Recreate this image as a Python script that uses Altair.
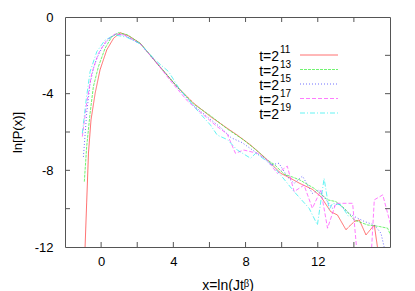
import altair as alt
import pandas as pd

# ---------------- data ----------------
series = ["t=2^11", "t=2^13", "t=2^15", "t=2^17", "t=2^19"]
exponents = ["11", "13", "15", "17", "19"]

x11 = [-0.89, -0.8, -0.7, -0.56, -0.33, -0.06, 0.31, 0.69, 1.06, 1.52, 2.17, 3.09, 4.2, 5.13, 6.06, 6.98, 7.54, 8.28, 9.02, 9.39, 9.94, 10.5, 11.0, 11.7, 12.17, 12.72, 13.09, 13.56, 14.02, 14.3, 14.67, 15.13, 15.32]
y11 = [-12.05, -9.7, -7.1, -5.37, -3.98, -2.76, -1.72, -1.11, -0.82, -0.98, -1.37, -2.42, -3.63, -4.5, -5.2, -5.8, -6.16, -6.68, -7.29, -7.63, -8.15, -8.42, -8.68, -8.99, -9.37, -10.16, -10.33, -11.1, -10.67, -10.59, -11.37, -10.85, -12.1]

x13 = [-0.93, -0.8, -0.61, -0.43, -0.15, 0.22, 0.59, 0.96, 1.43, 2.17, 3.09, 4.2, 5.13, 6.06, 7.0, 7.9, 8.6, 9.2, 9.6, 10.13, 10.6, 11.0, 11.8, 12.54, 13.0, 13.47, 14.02, 14.76, 15.41, 15.87, 16.06]
y13 = [-8.59, -6.77, -5.02, -3.64, -2.59, -1.63, -1.03, -0.82, -0.92, -1.37, -2.4, -3.62, -4.55, -5.15, -5.85, -6.42, -6.95, -7.46, -7.7, -8.2, -8.35, -8.5, -8.94, -9.54, -9.63, -9.98, -10.59, -10.85, -10.93, -11.02, -11.45]

x15 = [-0.98, -0.8, -0.61, -0.4, -0.24, 0.05, 0.31, 0.6, 0.87, 1.3, 2.17, 3.09, 4.2, 5.1, 6.0, 6.6, 7.2, 7.8, 8.4, 9.0, 9.39, 9.85, 10.31, 10.69, 11.15, 11.7, 12.07, 12.8, 13.1, 13.84, 14.58, 15.13, 15.5, 15.69]
y15 = [-7.3, -5.03, -3.46, -2.6, -2.16, -1.6, -1.29, -1.0, -0.88, -0.95, -1.4, -2.42, -3.65, -4.6, -5.3, -5.75, -6.3, -6.55, -6.95, -7.35, -7.72, -7.63, -8.33, -8.68, -8.3, -9.2, -9.02, -9.98, -9.72, -10.32, -10.67, -10.85, -11.28, -12.06]

x17 = [-1.04, -0.8, -0.52, -0.15, 0.31, 0.78, 1.3, 2.17, 3.09, 3.9, 4.8, 5.6, 6.4, 6.98, 7.44, 7.9, 8.3, 8.65, 9.2, 9.76, 10.31, 10.69, 11.24, 11.7, 12.17, 12.54, 13.0, 13.93, 14.2, 14.95, 15.13, 15.6, 16.06]
y17 = [-6.24, -4.5, -2.94, -1.9, -1.2, -0.88, -0.95, -1.4, -2.4, -3.4, -4.4, -5.05, -5.7, -6.1, -7.11, -6.94, -7.03, -7.11, -7.46, -8.16, -7.78, -9.11, -8.77, -9.98, -9.03, -11.02, -9.72, -9.72, -12.6, -12.6, -9.54, -9.28, -10.93]

x19 = [-1.04, -0.83, -0.61, -0.24, 0.22, 0.78, 1.4, 2.17, 3.0, 3.74, 4.3, 5.4, 6.06, 6.43, 7.0, 7.54, 8.28, 8.56, 9.0, 9.39, 9.94, 10.69, 11.52, 11.98, 12.35, 12.63, 12.82, 13.28, 13.7]
y19 = [-6.07, -4.33, -2.85, -1.81, -1.2, -0.94, -1.05, -1.4, -2.25, -2.85, -3.7, -4.95, -5.64, -6.16, -6.4, -6.94, -7.37, -7.11, -7.4, -7.63, -8.24, -9.11, -9.98, -10.85, -8.42, -10.06, -9.72, -9.8, -10.4]

x_labels = [0, 4, 8, 12]
y_labels = [0, -4, -8, -12]
x_minor = [0, 2, 4, 6, 8, 10, 12, 14]
y_minor = [-2, -4, -6, -8, -10]

colors = ["#ff3333", "#33ee33", "#3333ff", "#ff44ff", "#22eeee"]
dashes = [[1, 0], [3, 1], [1, 2], [4, 2], [5, 2, 1, 2]]

# ---------------- build tables ----------------
xs = [x11, x13, x15, x17, x19]
ys = [y11, y13, y15, y17, y19]
rows = []
for s, xx, yy in zip(series, xs, ys):
    for i, (a, b) in enumerate(zip(xx, yy)):
        rows.append({"series": s, "x": a, "y": b, "order": i})
df = pd.DataFrame(rows)

W, H = 325, 230
leg = pd.DataFrame({
    "series": series,
    "exp": exponents,
    "ry": [38 + 14.5 * i for i in range(len(series))],
})

xscale = alt.Scale(domain=[-2, 16], nice=False, zero=False)
yscale = alt.Scale(domain=[-12, 0], nice=False, zero=False)
cscale = alt.Scale(domain=series, range=colors)
dscale = alt.Scale(domain=series, range=dashes)

FONT = "Liberation Sans"

xaxis = alt.Axis(values=x_labels, ticks=False, domain=False, grid=False,
                 labelExpr="'' + datum.value", labelPadding=8,
                 title="x=ln(Jtᵝ)", titleFontWeight="normal",
                 titleFontSize=14, titleFont=FONT,
                 titleX=W / 2, titleY=42, titleBaseline="alphabetic",
                 titleAlign="center")
yaxis = alt.Axis(values=y_labels, ticks=False, domain=False, grid=False,
                 labelExpr="'' + datum.value", labelPadding=12,
                 title="ln[P(x)]", titleFontWeight="normal",
                 titleFontSize=13, titleFont=FONT,
                 titleX=-48, titleY=H / 2, titleBaseline="middle",
                 titleAlign="center")

lines = alt.Chart(df).mark_line(clip=True, strokeWidth=1, opacity=0.7).encode(
    x=alt.X("x:Q", scale=xscale, axis=xaxis),
    y=alt.Y("y:Q", scale=yscale, axis=yaxis),
    color=alt.Color("series:N", scale=cscale, legend=None),
    strokeDash=alt.StrokeDash("series:N", scale=dscale, legend=None),
    order="order:Q",
)

leg_lines = alt.Chart(leg).mark_rule(strokeWidth=1, opacity=0.7).encode(
    x=alt.value(235), x2=alt.value(273),
    y=alt.Y("ry:Q", scale=None, axis=None),
    color=alt.Color("series:N", scale=cscale, legend=None),
    strokeDash=alt.StrokeDash("series:N", scale=dscale, legend=None),
)

leg_text = alt.Chart(leg).mark_text(align="right", baseline="middle", font=FONT,
                                    fontSize=14, dy=2, color="#000").encode(
    x=alt.value(214),
    y=alt.Y("ry:Q", scale=None, axis=None),
    text=alt.value("t=2"),
)

leg_sup = alt.Chart(leg).mark_text(align="left", baseline="middle", font=FONT,
                                   fontSize=10, dy=-5, color="#000").encode(
    x=alt.value(215),
    y=alt.Y("ry:Q", scale=None, axis=None),
    text="exp:N",
)

tick_col = "#555"
xt = pd.DataFrame({"x": x_minor})
yt = pd.DataFrame({"y": y_minor})
xb = alt.Chart(xt).mark_rule(color=tick_col).encode(
    x=alt.X("x:Q", scale=xscale, axis=xaxis), y=alt.value(H), y2=alt.value(H - 5))
xtp = alt.Chart(xt).mark_rule(color=tick_col).encode(
    x=alt.X("x:Q", scale=xscale, axis=xaxis), y=alt.value(0), y2=alt.value(5))
yl = alt.Chart(yt).mark_rule(color=tick_col).encode(
    y=alt.Y("y:Q", scale=yscale, axis=yaxis), x=alt.value(0), x2=alt.value(5))
yr = alt.Chart(yt).mark_rule(color=tick_col).encode(
    y=alt.Y("y:Q", scale=yscale, axis=yaxis), x=alt.value(W), x2=alt.value(W - 5))

chart = alt.layer(lines, xb, xtp, yl, yr, leg_lines, leg_text, leg_sup).properties(
    width=W, height=H,
    autosize=alt.AutoSizeParams(type="none"),
    padding={"left": 57, "top": 9, "right": 17, "bottom": 44},
).configure_view(stroke="#555", strokeWidth=1).configure_axis(
    labelFont=FONT, labelFontSize=13, labelColor="#000", titleColor="#000"
)

chart.save("out.html", embed_options={"renderer": "svg", "actions": False})
